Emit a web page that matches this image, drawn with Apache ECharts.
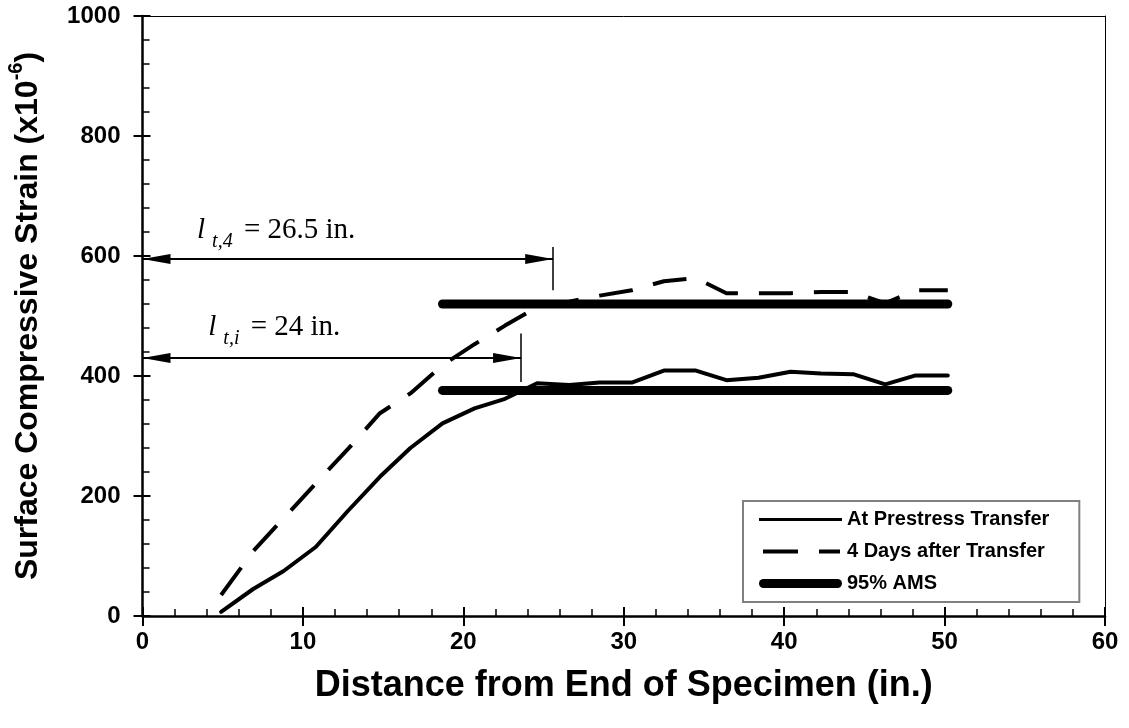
<!DOCTYPE html>
<html>
<head>
<meta charset="utf-8">
<script src="https://cdn.jsdelivr.net/npm/echarts@6/dist/echarts.min.js"></script>
<style>
  html, body { margin: 0; padding: 0; background: #fff; }
  #chart { width: 1129px; height: 728px; }
</style>
</head>
<body>
<div id="chart"></div>
<script>
// ---- Data ----
const distances = [4.9, 6.9, 8.8, 10.8, 12.8, 14.8, 16.7, 18.7, 20.7, 22.6, 24.6, 26.6,
                   28.5, 30.5, 32.5, 34.5, 36.4, 38.4, 40.4, 42.3, 44.3, 46.3, 48.2, 50.2];
const atTransfer = [7, 45, 75, 115, 175, 232, 280, 321, 346, 362, 388, 385,
                    389, 389, 409, 409, 393, 397, 407, 404, 403, 386, 401, 401];
const fourDays = [35, 108, 163, 221, 278, 338, 371, 418, 453, 484, 515, 524,
                  534, 543, 558, 563, 538, 538, 538, 540, 540, 521, 543, 543];
const amsStart = 18.7;
const amsLevels = [376, 520];           // 95% AMS for initial / 4 days
const seriesNames = ['At Prestress Transfer', '4 Days after Transfer', '95% AMS'];

// transfer-length annotations
const transferLengths = [26.5, 24];        // labels (in.)
const markerX = [25.6, 23.6];              // where the vertical markers are drawn
const arrowY = [595, 430];                 // arrow heights
const markerSpan = [[615, 543], [471, 390]];
const subs = ['t,4', 't,i'];
const labelPos = [[3.4, 667], [4.1, 505]];

const xAxisTicks = { min: 0, max: 60, interval: 10 };
const yAxisTicks = { min: 0, max: 1000, interval: 200 };

// ---- Build chart ----
const chart = echarts.init(document.getElementById('chart'), null, { renderer: 'canvas' });

const pairs = (ys) => distances.map((x, i) => [x, ys[i]]);
const amsX = distances.filter(x => x >= amsStart);

const sans = 'Arial, "Liberation Sans", Helvetica, sans-serif';
const serif = '"Times New Roman", "Liberation Serif", serif';

const richLabel = {
  l:   { fontFamily: serif, fontSize: 29, fontStyle: 'italic', color: '#000', lineHeight: 34, verticalAlign: 'top' },
  sub: { fontFamily: serif, fontSize: 20, fontStyle: 'italic', color: '#000', lineHeight: 22, verticalAlign: 'top', padding: [16, 0, 0, 7] },
  eq:  { fontFamily: serif, fontSize: 29, color: '#000', lineHeight: 34, verticalAlign: 'top', padding: [0, 0, 0, 4] }
};

const markLineData = [];
for (let i = 0; i < markerX.length; i++) {
  markLineData.push([
    { coord: [0, arrowY[i]], symbol: 'triangle' },
    { coord: [markerX[i], arrowY[i]], symbol: 'triangle' }
  ]);
  markLineData.push([
    { coord: [markerX[i], markerSpan[i][0]], symbol: 'none', lineStyle: { width: 1.5 } },
    { coord: [markerX[i], markerSpan[i][1]], symbol: 'none' }
  ]);
}

const markPointData = labelPos.map((p, i) => ({
  coord: p,
  symbol: 'circle',
  symbolSize: 0,
  itemStyle: { color: 'rgba(0,0,0,0)' },
  label: {
    show: true,
    position: [0, 0],
    align: 'left',
    verticalAlign: 'top',
    formatter: '{l|l}{sub|' + subs[i] + '}{eq| = ' + transferLengths[i] + ' in.}',
    rich: richLabel
  }
}));

// legend icons drawn as line samples (box 83 x 10)
const legendIcons = [
  'path://M0,0L0,0M0,3.5L83,3.5L83,6.5L0,6.5ZM83,10L83,10',
  'path://M0,0L0,0M4,3L39,3L39,7L4,7ZM60,3L81,3L81,7L60,7ZM83,10L83,10',
  'path://M0,0L0,0M4.5,0.5L78.5,0.5A4.5,4.5,0,0,1,78.5,9.5L4.5,9.5A4.5,4.5,0,0,1,4.5,0.5ZM83,10L83,10'
];

const option = {
  animation: false,
  backgroundColor: '#fff',
  grid: { left: 142.5, right: 24, top: 16, bottom: 112, containLabel: false, outerBoundsMode: 'none' },
  legend: {
    data: seriesNames.map((n, i) => ({ name: n, icon: legendIcons[i] })),
    orient: 'vertical',
    left: 743,
    top: 501,
    itemWidth: 83,
    itemHeight: 10,
    itemGap: 11,
    padding: [8, 30, 8, 16],
    backgroundColor: '#fff',
    borderColor: '#808080',
    borderWidth: 2,
    borderRadius: 0,
    itemStyle: { color: '#000', borderWidth: 0 },
    textStyle: { fontFamily: sans, fontWeight: 'bold', fontSize: 20, color: '#000', lineHeight: 21 }
  },
  xAxis: [
    {
      type: 'value', position: 'bottom', ...xAxisTicks,
      axisLine: { show: true, onZero: false, lineStyle: { color: '#000', width: 2.5 } },
      axisTick: { show: true, inside: false, length: 10, lineStyle: { color: '#000', width: 2 } },
      minorTick: { show: false },
      splitLine: { show: false },
      axisLabel: { fontFamily: sans, fontWeight: 'bold', fontSize: 24, color: '#000', margin: 14 },
      name: 'Distance from End of Specimen (in.)',
      nameLocation: 'middle',
      nameGap: 52,
      nameTextStyle: { fontFamily: sans, fontWeight: 'bold', fontSize: 36, color: '#000' }
    },
    {
      type: 'value', position: 'bottom', ...xAxisTicks,
      axisLine: { show: false, onZero: false },
      axisTick: { show: true, inside: true, length: 9, lineStyle: { color: '#000', width: 2 } },
      minorTick: { show: true, splitNumber: 5, length: 7, lineStyle: { color: '#000', width: 1.5 } },
      splitLine: { show: false },
      axisLabel: { show: false }
    },
    {
      type: 'value', position: 'top', ...xAxisTicks,
      axisLine: { show: true, onZero: false, lineStyle: { color: '#000', width: 1 } },
      axisTick: { show: false }, splitLine: { show: false }, axisLabel: { show: false }
    }
  ],
  yAxis: [
    {
      type: 'value', position: 'left', ...yAxisTicks,
      axisLine: { show: true, onZero: false, lineStyle: { color: '#000', width: 2.5 } },
      axisTick: { show: true, inside: false, length: 9, lineStyle: { color: '#000', width: 2 } },
      splitLine: { show: false },
      axisLabel: { fontFamily: sans, fontWeight: 'bold', fontSize: 24, color: '#000', margin: 22,
                   formatter: v => String(v) },
      name: '{a|Surface Compressive Strain (x10}{s|-6}{a|)}',
      nameLocation: 'middle',
      nameGap: 98,
      nameRotate: 90,
      nameTextStyle: {
        rich: {
          a: { fontFamily: sans, fontWeight: 'bold', fontSize: 32, color: '#000', lineHeight: 38, verticalAlign: 'bottom' },
          s: { fontFamily: sans, fontWeight: 'bold', fontSize: 20, color: '#000', lineHeight: 22, verticalAlign: 'top' }
        }
      }
    },
    {
      type: 'value', position: 'left', ...yAxisTicks,
      axisLine: { show: false, onZero: false },
      axisTick: { show: true, inside: true, length: 8, lineStyle: { color: '#000', width: 2 } },
      minorTick: { show: true, splitNumber: 5, length: 7, lineStyle: { color: '#000', width: 1.5 } },
      splitLine: { show: false },
      axisLabel: { show: false }
    },
    {
      type: 'value', position: 'right', ...yAxisTicks,
      axisLine: { show: true, onZero: false, lineStyle: { color: '#000', width: 1 } },
      axisTick: { show: false }, splitLine: { show: false }, axisLabel: { show: false }
    }
  ],
  series: [
    {
      name: seriesNames[2], type: 'line', symbol: 'none', z: 2,
      data: amsX.map(x => [x, amsLevels[0]]),
      lineStyle: { color: '#000', width: 9, cap: 'round', join: 'round' },
      itemStyle: { color: '#000' }
    },
    {
      name: seriesNames[2], type: 'line', symbol: 'none', z: 2,
      data: amsX.map(x => [x, amsLevels[1]]),
      lineStyle: { color: '#000', width: 9, cap: 'round', join: 'round' },
      itemStyle: { color: '#000' }
    },
    {
      name: seriesNames[0], type: 'line', symbol: 'none', z: 3,
      data: pairs(atTransfer),
      lineStyle: { color: '#000', width: 4, cap: 'round', join: 'round' },
      itemStyle: { color: '#000' }
    },
    {
      name: seriesNames[1], type: 'line', symbol: 'none', z: 3,
      data: pairs(fourDays),
      lineStyle: { color: '#000', width: 4, type: [34, 21], cap: 'butt', join: 'round' },
      itemStyle: { color: '#000' }
    },
    {
      name: 'annotations', type: 'line', data: [], symbol: 'none', z: 4,
      markLine: {
        silent: true,
        animation: false,
        symbolSize: [10, 28],
        symbolOffset: [[0, '50%'], [0, '50%']],
        lineStyle: { color: '#000', width: 2, type: 'solid' },
        itemStyle: { color: '#000' },
        label: { show: false },
        emphasis: { disabled: true },
        data: markLineData
      },
      markPoint: {
        silent: true,
        animation: false,
        data: markPointData
      }
    }
  ]
};

chart.setOption(option);
</script>
</body>
</html>
